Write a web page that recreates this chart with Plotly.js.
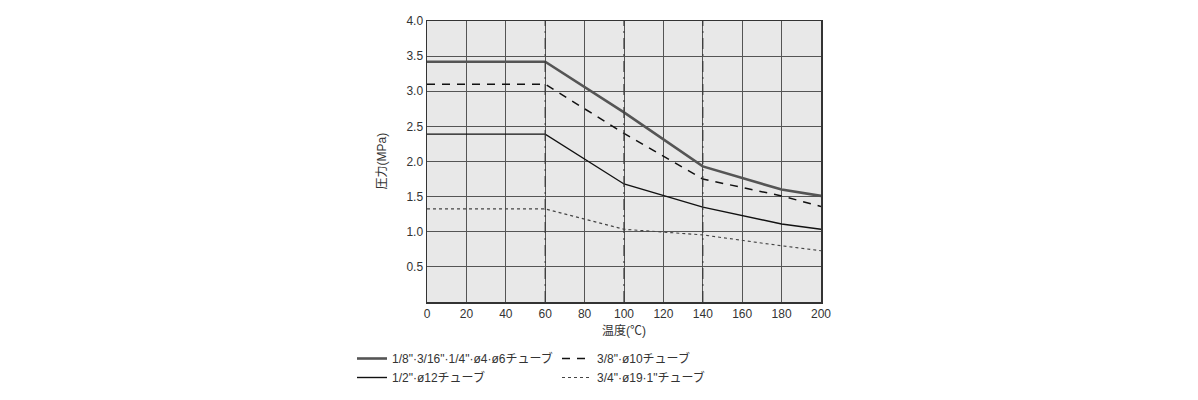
<!DOCTYPE html>
<html>
<head>
<meta charset="utf-8">
<script src="https://cdn.plot.ly/plotly-3.0.1.min.js"></script>
<style>html,body{margin:0;padding:0;background:#fff;}#chart{width:1198px;height:400px;}</style>
</head>
<body>
<div id="chart"></div>
<script>
const temps = [0, 60, 100, 140, 180, 200];
const series1Name = '1/8"·3/16"·1/4"·ø4·ø6チューブ';
const series1 = [3.42, 3.42, 2.70, 1.93, 1.60, 1.51];
const series2Name = '3/8"·ø10チューブ';
const series2 = [3.10, 3.10, 2.40, 1.75, 1.51, 1.36];
const series3Name = '1/2"·ø12チューブ';
const series3 = [2.39, 2.39, 1.68, 1.35, 1.11, 1.035];
const series4Name = '3/4"·ø19·1"チューブ';
const series4 = [1.325, 1.325, 1.035, 0.955, 0.80, 0.73];
const markerTemps = [60, 100, 140];
const yTicks = [0.5, 1.0, 1.5, 2.0, 2.5, 3.0, 3.5, 4.0];
const yTickText = ['0.5', '1.0', '1.5', '2.0', '2.5', '3.0', '3.5', '4.0'];
const xTicks = [0, 20, 40, 60, 80, 100, 120, 140, 160, 180, 200];
const xTitle = '温度(℃)';
const yTitle = '圧力(MPa)';

const FONT = 'Liberation Sans, Noto Sans CJK JP, sans-serif';

const traces = [
  {x: temps, y: series1, name: series1Name, mode: 'lines', legend: 'legend',
   line: {color: '#555555', width: 2.6}},
  {x: temps, y: series3, name: series3Name, mode: 'lines', legend: 'legend',
   line: {color: '#111111', width: 1.4}},
  {x: temps, y: series2, name: series2Name, mode: 'lines', legend: 'legend2',
   line: {color: '#111111', width: 1.5, dash: '8px,7px'}},
  {x: temps, y: series4, name: series4Name, mode: 'lines', legend: 'legend2',
   line: {color: '#444444', width: 1.1, dash: '3px,3px'}}
];

const shapes = markerTemps.map(t => ({
  type: 'line', xref: 'x', yref: 'y', x0: t, x1: t, y0: 0, y1: 4,
  line: {color: '#3a3a3a', width: 1.2, dash: '11px,5px,2px,5px'}, layer: 'above'
}));

const annotations = [
  {text: yTitle, xref: 'paper', yref: 'paper', x: (381 - 427) / 394, y: 0.5,
   xanchor: 'center', yanchor: 'middle', textangle: -90, showarrow: false,
   font: {family: FONT, size: 12, color: '#333333'}},
  {text: xTitle, xref: 'paper', yref: 'paper', x: 0.5, y: (302 - 331) / 281,
   xanchor: 'center', yanchor: 'middle', showarrow: false,
   font: {family: FONT, size: 12, color: '#333333'}}
];

const layout = {
  width: 1198, height: 400,
  margin: {l: 427, r: 377, t: 21, b: 98, pad: 0, autoexpand: false},
  paper_bgcolor: '#ffffff',
  plot_bgcolor: '#e8e8e8',
  font: {family: FONT, size: 12, color: '#333333'},
  showlegend: true,
  xaxis: {
    range: [0, 200], tickvals: xTicks, ticktext: xTicks.map(String),
    showgrid: true, gridcolor: '#555555', gridwidth: 1,
    showline: true, linecolor: '#333333', linewidth: 1.5, mirror: true,
    zeroline: false, ticks: '', ticklen: 0,
    tickfont: {family: FONT, size: 12, color: '#333333'}
  },
  yaxis: {
    range: [0, 4], tickvals: yTicks, ticktext: yTickText,
    showgrid: true, gridcolor: '#555555', gridwidth: 1,
    showline: true, linecolor: '#333333', linewidth: 1.5, mirror: true,
    zeroline: false, ticks: '', ticklen: 0,
    tickfont: {family: FONT, size: 12, color: '#333333'}
  },
  legend: {
    xref: 'container', yref: 'container',
    x: 352 / 1198, y: 1 - 344 / 400, xanchor: 'left', yanchor: 'top',
    orientation: 'v', bgcolor: 'rgba(0,0,0,0)', itemwidth: 30, tracegroupgap: 0,
    font: {family: FONT, size: 12, color: '#333333'}
  },
  legend2: {
    xref: 'container', yref: 'container',
    x: 557 / 1198, y: 1 - 344 / 400, xanchor: 'left', yanchor: 'top',
    orientation: 'v', bgcolor: 'rgba(0,0,0,0)', itemwidth: 30, tracegroupgap: 0,
    font: {family: FONT, size: 12, color: '#333333'}
  },
  annotations: annotations,
  shapes: shapes
};

Plotly.newPlot('chart', traces, layout, {displayModeBar: false, staticPlot: true});
</script>
</body>
</html>
